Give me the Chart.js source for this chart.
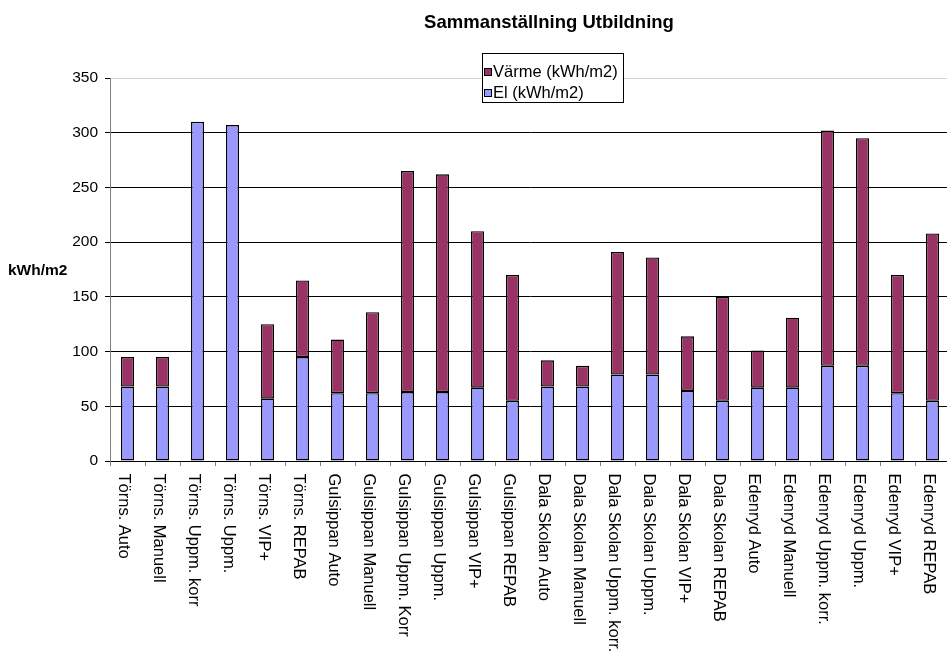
<!DOCTYPE html>
<html lang="sv">
<head>
<meta charset="utf-8">
<title>Sammanställning Utbildning</title>
<script src="https://cdn.jsdelivr.net/npm/chart.js@4.4.1/dist/chart.umd.min.js"></script>
<style>
  html, body { margin: 0; padding: 0; background: #fff; overflow: hidden; }
  #wrap { position: relative; width: 950px; height: 658px; }
</style>
</head>
<body>
<div id="wrap"><canvas id="chart" width="950" height="658"></canvas></div>
<script>
const TITLE = 'Sammanställning Utbildning';
const Y_TITLE = 'kWh/m2';

const CATEGORIES = [
  'Törns. Auto', 'Törns. Manuell', 'Törns. Uppm. korr', 'Törns. Uppm.',
  'Törns. VIP+', 'Törns. REPAB', 'Gulsippan Auto', 'Gulsippan Manuell',
  'Gulsippan Uppm. Korr', 'Gulsippan Uppm.', 'Gulsippan VIP+', 'Gulsippan REPAB',
  'Dala Skolan Auto', 'Dala Skolan Manuell', 'Dala Skolan Uppm. korr.', 'Dala Skolan Uppm.',
  'Dala Skolan VIP+', 'Dala Skolan REPAB', 'Edenryd Auto', 'Edenryd Manuell',
  'Edenryd Uppm. korr.', 'Edenryd Uppm.', 'Edenryd VIP+', 'Edenryd REPAB',
];

// kWh/m2, stacked: El at the bottom, Värme on top
const EL = [
  68, 68, 310, 307, 57, 95, 62, 62,
  63, 63, 67, 55, 68, 68, 79, 79,
  64, 55, 67, 67, 87, 87, 62, 55,
];
const VARME = [
  27, 27, null, null, 68, 70, 49, 74,
  202, 199, 143, 115, 24, 19, 112, 107,
  50, 95, 34, 64, 215, 208, 108, 153,
];

const SERIES_NAMES = ['Värme (kWh/m2)', 'El (kWh/m2)'];
const COLOR_VARME = '#993366';
const COLOR_EL = '#9999ff';

const Y_MIN = 0;
const Y_MAX = 350;
const Y_STEP = 50;

const FONT = '"Liberation Sans", Arial, Helvetica, sans-serif';

// title, horizontal axis title, top-to-bottom category labels and the legend box
const decorPlugin = {
  id: 'decor',
  afterDraw(chart) {
    const ctx = chart.ctx;
    const xs = chart.scales.x;
    ctx.save();
    ctx.fillStyle = '#000';

    ctx.font = `bold 18.5px ${FONT}`;
    ctx.textAlign = 'center';
    ctx.textBaseline = 'alphabetic';
    ctx.fillText(TITLE, 549, 27.5);

    ctx.font = `bold 15.5px ${FONT}`;
    ctx.textAlign = 'left';
    ctx.fillText(Y_TITLE, 8, 275);

    ctx.font = `16.5px ${FONT}`;
    CATEGORIES.forEach((label, i) => {
      const cx = xs.getPixelForValue(i);
      ctx.save();
      ctx.translate(cx, chart.chartArea.bottom + 12.5);
      ctx.rotate(Math.PI / 2);
      ctx.textAlign = 'left';
      ctx.textBaseline = 'alphabetic';
      ctx.fillText(label, 0, 8.5);
      ctx.restore();
    });

    // legend
    const lx = 482, ly = 53, lw = 141, lh = 49;
    ctx.fillStyle = '#fff';
    ctx.fillRect(lx, ly, lw, lh);
    ctx.strokeStyle = '#000';
    ctx.lineWidth = 1;
    ctx.strokeRect(lx + 0.5, ly + 0.5, lw, lh);
    const rows = [
      { name: SERIES_NAMES[0], color: COLOR_VARME, y: 72 },
      { name: SERIES_NAMES[1], color: COLOR_EL, y: 93 },
    ];
    ctx.font = `16.5px ${FONT}`;
    ctx.textBaseline = 'middle';
    rows.forEach(r => {
      ctx.fillStyle = r.color;
      ctx.fillRect(484, r.y - 4, 8, 8);
      ctx.strokeRect(484.5, r.y - 3.5, 7, 7);
      ctx.fillStyle = '#000';
      ctx.fillText(r.name, 493, r.y + 0.5);
    });
    ctx.restore();
  },
};

const barStyle = {
  borderColor: '#000',
  borderWidth: 1.4,
  borderSkipped: false,
  categoryPercentage: 1,
  barPercentage: 13 / 35,
};

new Chart(document.getElementById('chart'), {
  type: 'bar',
  data: {
    labels: CATEGORIES,
    datasets: [
      { label: SERIES_NAMES[1], data: EL, backgroundColor: COLOR_EL, ...barStyle },
      { label: SERIES_NAMES[0], data: VARME, backgroundColor: COLOR_VARME, ...barStyle },
    ],
  },
  options: {
    responsive: false,
    animation: false,
    layout: { padding: { top: 78, left: 0, right: 0, bottom: 0 } },
    plugins: {
      legend: { display: false },
      title: { display: false },
      tooltip: { enabled: false },
    },
    scales: {
      x: {
        stacked: true,
        ticks: { display: false },
        grid: {
          offset: true,
          drawOnChartArea: false,
          drawTicks: true,
          tickLength: 5,
          tickColor: '#808080',
        },
        border: { color: '#000', width: 1 },
        afterFit: (s) => { s.height = 197; },
      },
      y: {
        stacked: true,
        min: Y_MIN,
        max: Y_MAX,
        ticks: {
          stepSize: Y_STEP,
          color: '#000',
          padding: 7,
          font: { family: FONT, size: 15.5 },
        },
        grid: {
          color: (c) => (c.tick && c.tick.value === Y_MAX ? '#d4d4d4' : '#000'),
          tickColor: '#000',
          tickLength: 5,
        },
        border: { color: '#808080', width: 1 },
        afterFit: (s) => { s.width = 110; },
      },
    },
  },
  plugins: [decorPlugin],
});
</script>
</body>
</html>
